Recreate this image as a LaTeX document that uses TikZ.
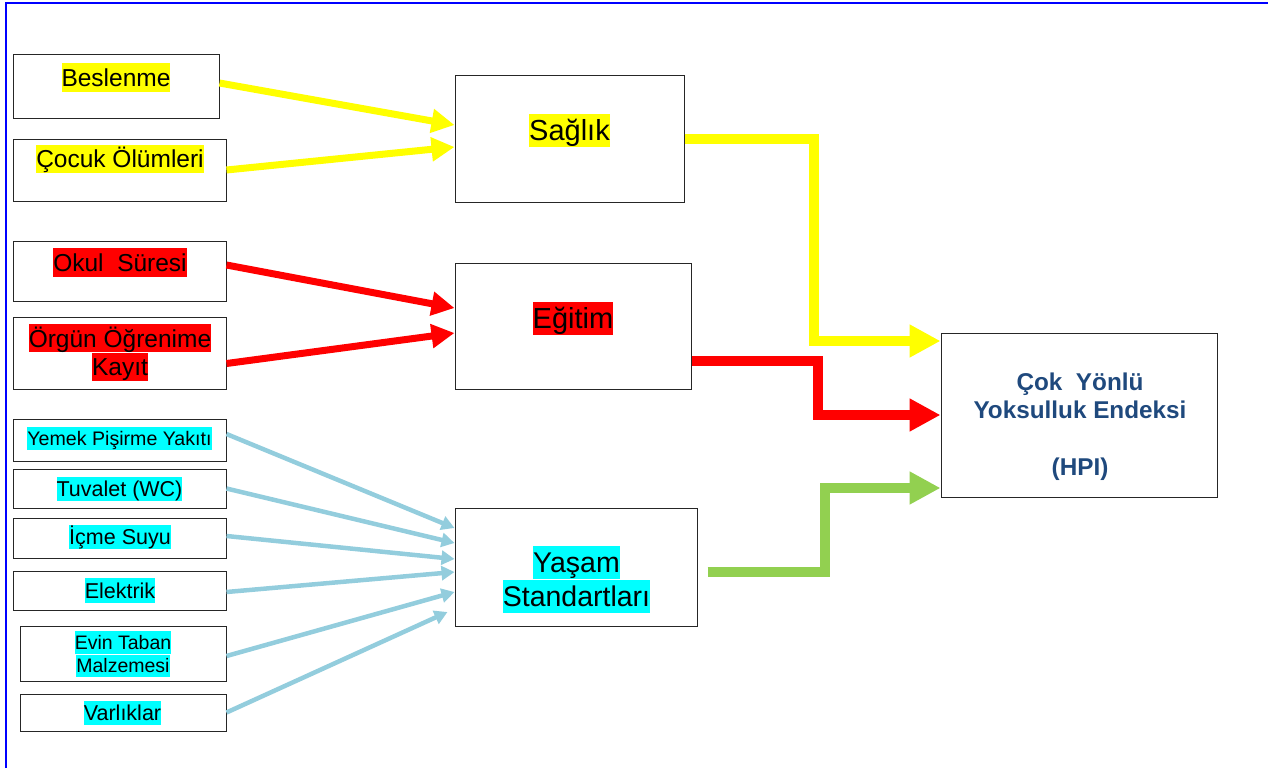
\documentclass[tikz,border=0pt]{standalone}
\usepackage{fontspec}
\setmainfont{Liberation Sans}
\usetikzlibrary{arrows.meta}

\definecolor{hpiblue}{RGB}{31,73,125}
\definecolor{lightaqua}{RGB}{147,205,221}
\definecolor{leafgreen}{RGB}{146,208,80}
\definecolor{hlyellow}{RGB}{255,255,0}
\definecolor{hlred}{RGB}{255,0,0}
\definecolor{hlcyan}{RGB}{0,255,255}
\setlength{\fboxsep}{0pt}
\newcommand{\hl}[2]{\colorbox{#1}{\rule[-0.22em]{0pt}{1.16em}#2}}

\begin{document}
\begin{tikzpicture}[x=1pt, y=-1pt,
	box/.style={draw=black!85, line width=1pt, inner sep=0pt},
	lbl/.style={inner sep=0pt, align=center},
	big/.style={font=\fontsize{24.5}{28.5}\selectfont},
	huge/.style={font=\fontsize{29}{33}\selectfont},
	small/.style={font=\fontsize{21.5}{25}\selectfont},
	tiny/.style={font=\fontsize{19.6}{23}\selectfont},
	thinarrow/.style={line width=7pt, -{Triangle[length=23pt,width=23pt]}},
	aquaarrow/.style={lightaqua, line width=4.5pt, -{Triangle[length=13pt,width=14pt]}},
	elbow/.style={line width=10pt, -{Triangle[length=31pt,width=31pt]}}]
\useasboundingbox (0,0) rectangle (1268,768);
\draw[blue, line width=1.2pt] (6,768) -- (6,3) -- (1268,3);

% left column
\node[box, minimum width=206pt, minimum height=63pt] (beslenme) at (116,86.5) {};
\node[box, minimum width=213pt, minimum height=62pt] (cocuk) at (119.5,170) {};
\node[box, minimum width=213pt, minimum height=60pt] (okul) at (119.5,271) {};
\node[box, minimum width=213pt, minimum height=72pt] (orgun) at (119.5,353) {};
\node[box, minimum width=213pt, minimum height=42pt] (yemek) at (119.5,440) {};
\node[box, minimum width=213pt, minimum height=39pt] (tuvalet) at (119.5,488.5) {};
\node[box, minimum width=213pt, minimum height=40pt] (icme) at (119.5,538) {};
\node[box, minimum width=213pt, minimum height=39pt] (elektrik) at (119.5,590.5) {};
\node[box, minimum width=206pt, minimum height=55pt] (evin) at (123,653.5) {};
\node[box, minimum width=206pt, minimum height=37pt] (varlik) at (123,712.5) {};

\node[lbl, big] (beslenme-t) at (116,77.5) {\hl{hlyellow}{Beslenme}};
\node[lbl, big] (cocuk-t) at (120,159) {\hl{hlyellow}{Çocuk Ölümleri}};
\node[lbl, big] (okul-t) at (120,262.5) {\hl{hlred}{Okul\ \ Süresi}};
\node[lbl, big] (orgun-t) at (120,352.5) {\hl{hlred}{Örgün Öğrenime}\\\hl{hlred}{Kayıt}};
\node[lbl, tiny] (yemek-t) at (119.5,438.5) {\hl{hlcyan}{Yemek Pişirme Yakıtı}};
\node[lbl, small] (tuvalet-t) at (119.5,489) {\hl{hlcyan}{Tuvalet (WC)}};
\node[lbl, small] (icme-t) at (120,537) {\hl{hlcyan}{İçme Suyu}};
\node[lbl, small] (elektrik-t) at (120,590.5) {\hl{hlcyan}{Elektrik}};
\node[lbl, font=\fontsize{19.5}{21.5}\selectfont] (evin-t) at (123,654) {\hl{hlcyan}{Evin Taban}\\\hl{hlcyan}{Malzemesi}};
\node[lbl, small] (varlik-t) at (122.5,713) {\hl{hlcyan}{Varlıklar}};

% middle column
\node[box, minimum width=229pt, minimum height=127pt] (saglik) at (569.5,138.5) {};
\node[box, minimum width=236pt, minimum height=126pt] (egitim) at (573,326) {};
\node[box, minimum width=242pt, minimum height=118pt] (yasam) at (576,567) {};

\node[lbl, huge] (saglik-t) at (569.5,130.5) {\hl{hlyellow}{Sağlık}};
\node[lbl, huge] (egitim-t) at (573,318.5) {\hl{hlred}{Eğitim}};
\node[lbl, font=\fontsize{28.5}{32.5}\selectfont] (yasam-t) at (576.5,579.5) {\hl{hlcyan}{Yaşam}\\\hl{hlcyan}{Standartları}};

% index
\node[box, minimum width=276pt, minimum height=164pt] (hpi) at (1079,415) {};
\node[lbl, text=hpiblue, font=\fontsize{24.3}{28.5}\selectfont\bfseries] (hpi-t) at (1080,427.5)
	{\strut Çok\ \ Yönlü\\Yoksulluk Endeksi\\\mbox{}\\(HPI)\strut};

% inputs
\draw[thinarrow, hlyellow] ([yshift=3.5pt]beslenme.east) -- ([yshift=13.5pt]saglik.west);
\draw[thinarrow, hlyellow] (cocuk.east) -- ([yshift=-8.5pt]saglik.west);
\draw[thinarrow, hlred] ([yshift=6pt]okul.east) -- ([yshift=18pt]egitim.west);
\draw[thinarrow, hlred] ([yshift=-10.5pt]orgun.east) -- ([yshift=-7pt]egitim.west);

\draw[aquaarrow] ([yshift=6pt]yemek.east) -- ([yshift=39pt]yasam.west);
\draw[aquaarrow] (tuvalet.east) -- ([yshift=24pt]yasam.west);
\draw[aquaarrow] ([yshift=2pt]icme.east) -- ([yshift=8pt]yasam.west);
\draw[aquaarrow] ([yshift=-1.5pt]elektrik.east) -- ([yshift=-5pt]yasam.west);
\draw[aquaarrow] ([yshift=-2.5pt]evin.east) -- ([yshift=-25pt]yasam.west);
\draw[aquaarrow] (varlik.east) -- ([xshift=-7pt,yshift=-45pt]yasam.west);

% to the index
\draw[elbow, hlyellow] (saglik.east) -- ++(129,0) |- ([yshift=74pt]hpi.west);
\draw[elbow, hlred] ([yshift=-35pt]egitim.east) -- ++(126,0) |- (hpi.west);
\draw[elbow, leafgreen] ([xshift=10pt,yshift=-5pt]yasam.east) -- ++(117,0) |- ([yshift=-73pt]hpi.west);
\end{tikzpicture}
\end{document}
